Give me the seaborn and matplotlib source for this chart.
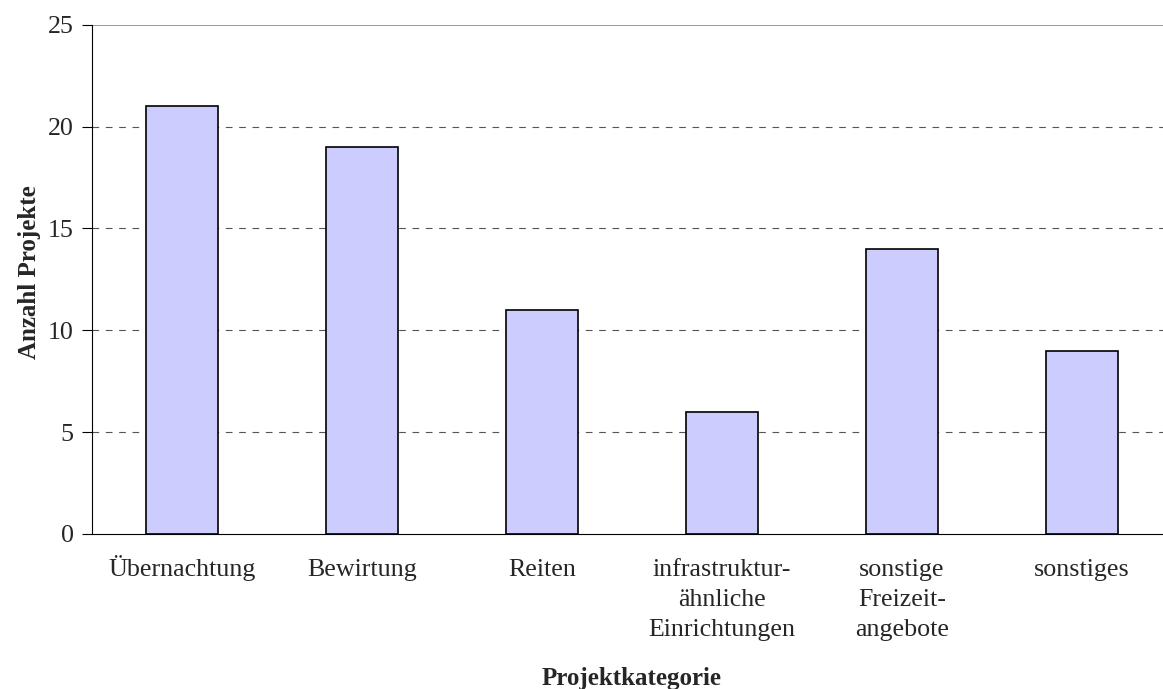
import numpy as np
import pandas as pd
import seaborn as sns
import matplotlib.pyplot as plt
from matplotlib.transforms import ScaledTranslation

categories = ["Übernachtung", "Bewirtung", "Reiten",
              "infrastruktur-\nähnliche\nEinrichtungen",
              "sonstige\nFreizeit-\nangebote", "sonstiges"]
values = [21, 19, 11, 6, 14, 9]

df = pd.DataFrame({"Projektkategorie": categories, "Anzahl Projekte": values})

sns.set_style("white")
plt.rcParams["font.family"] = ["Liberation Serif", "DejaVu Serif"]

fig = plt.figure(figsize=(11.63, 6.89), dpi=100)
# plot area runs slightly past the right edge of the picture, as in the original
ax = fig.add_axes([0.079, 0.225, 0.9286, 0.739])

sns.barplot(data=df, x="Projektkategorie", y="Anzahl Projekte", color="#CCCCFF",
            edgecolor="black", linewidth=1.2, width=0.4, saturation=1, ax=ax)

ax.set_ylim(0, 25)
ax.set_xlim(-0.5, len(categories) - 0.5)
ax.set_yticks(range(0, 26, 5))
for y in [5, 10, 15, 20]:
    ax.axhline(y, color="#555555", linestyle=(0, (6, 6)), linewidth=0.8, zorder=0)
ax.axhline(25, color="#888888", linewidth=1.2, zorder=0)

for s in ["top", "right"]:
    ax.spines[s].set_visible(False)
ax.spines["left"].set_color("black")
ax.spines["bottom"].set_color("black")

ax.tick_params(axis="x", which="major", length=0, pad=18, labelsize=18.7)
ax.set_xticks(np.arange(-0.5, len(categories), 1), minor=True)
ax.tick_params(axis="x", which="minor", length=7, color="black", direction="out")
ax.tick_params(axis="y", length=7, color="black", direction="out", labelsize=18.7, left=True, pad=6)

for lbl in ax.get_xticklabels():
    lbl.set_linespacing(1.47)
# the umlaut makes the first label's box taller; lift it so baselines line up
first = ax.get_xticklabels()[0]
first.set_transform(first.get_transform() + ScaledTranslation(0, 4 / 100, fig.dpi_scale_trans))

ax.set_xlabel("Projektkategorie", fontsize=18, fontweight="bold", va="center")
ax.xaxis.set_label_coords(0.5, -0.283)
ax.set_ylabel("Anzahl Projekte", fontsize=18, fontweight="bold", va="center", ha="center")
ax.yaxis.set_label_coords(-0.058, 0.515)

fig.savefig("out.png", dpi=100)
